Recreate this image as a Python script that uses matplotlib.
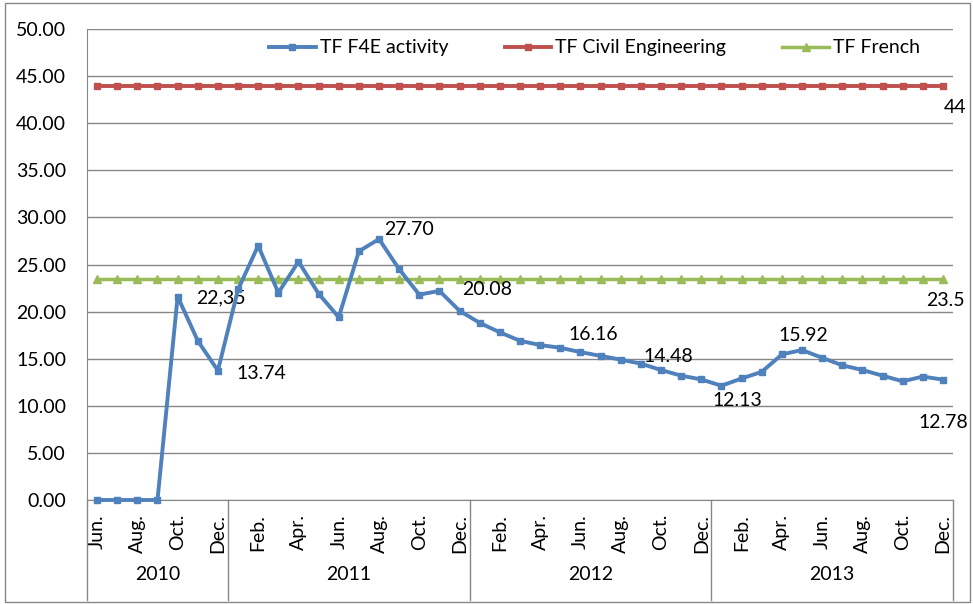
import matplotlib.pyplot as plt
import matplotlib.transforms as mtransforms
from matplotlib.patches import Rectangle

plt.rcParams['font.family'] = ['Lato', 'DejaVu Sans']

# data
month_names = ['Jan.', 'Feb.', 'Mar.', 'Apr.', 'May', 'Jun.', 'Jul.', 'Aug.', 'Sep.', 'Oct.', 'Nov.', 'Dec.']
months = month_names[5:] + month_names * 3
years = ['2010', '2011', '2012', '2013']
year_counts = [7, 12, 12, 12]

f4e = [0, 0, 0, 0, 21.6, 16.9, 13.74,
       22.35, 27.0, 22.0, 25.3, 21.9, 19.4, 26.4, 27.70, 24.5, 21.8, 22.2, 20.08,
       18.8, 17.8, 16.9, 16.45, 16.16, 15.7, 15.3, 14.9, 14.48, 13.8, 13.2, 12.8,
       12.13, 12.9, 13.6, 15.45, 15.92, 15.1, 14.3, 13.8, 13.2, 12.6, 13.1, 12.78]
civil = [44] * len(f4e)
french = [23.5] * len(f4e)

label_idx = [7, 6, 14, 18, 23, 27, 31, 35, 42]
label_txt = ['22,35', '13.74', '27.70', '20.08', '16.16', '14.48', '12.13', '15.92', '12.78']
label_off = [(-17, -8), (43, -3), (30, 10), (28, 21), (33, 13), (28, 7), (16, -15), (1, 15), (0, -43)]

blue = '#4F81BD'
red = '#C0504D'
green = '#9BBB59'
grey = '#868686'

fig = plt.figure(figsize=(9.73, 6.04), dpi=100)
fig.patches.append(Rectangle((5 / 973, 2 / 604), 965 / 973, 599 / 604, transform=fig.transFigure,
                             fill=False, edgecolor=grey, lw=1))
ax = fig.add_axes([87 / 973, 1 - 500 / 604, 866 / 973, 471 / 604])

x = list(range(len(f4e)))
ax.plot(x, f4e, color=blue, lw=2.8, marker='s', ms=5, label='TF F4E activity', clip_on=False, zorder=4)
ax.plot(x, civil, color=red, lw=2.8, marker='s', ms=4.5, label='TF Civil Engineering', clip_on=False, zorder=3)
ax.plot(x, french, color=green, lw=2.5, marker='^', ms=6, label='TF French', clip_on=False, zorder=3)

fs = 14
for i, t, (dx, dy) in zip(label_idx, label_txt, label_off):
    ax.annotate(t, (i, f4e[i]), xytext=(dx, dy), textcoords='offset pixels',
                ha='center', va='center', fontsize=fs)
ax.annotate('23.5', (42, french[-1]), xytext=(3, -22), textcoords='offset pixels',
            ha='center', va='center', fontsize=fs)
ax.annotate('44', (42, civil[-1]), xytext=(12, -22), textcoords='offset pixels',
            ha='center', va='center', fontsize=fs)

ax.set_xlim(-0.5, len(f4e) - 0.5)
ax.set_ylim(0, 50)
ax.set_yticks(range(0, 51, 5))
ax.set_yticklabels(['%.2f' % v for v in range(0, 51, 5)], fontsize=fs)
ax.grid(axis='y', color=grey, lw=1)
ax.set_axisbelow(True)
ax.tick_params(axis='y', length=0, pad=15)

ax.set_xticks(x)
ax.set_xticklabels([m if i % 2 == 0 else '' for i, m in enumerate(months)], rotation=90, fontsize=fs)
ax.tick_params(axis='x', length=0, pad=10)

for s in ['top', 'right']:
    ax.spines[s].set_visible(False)
for s in ['left', 'bottom']:
    ax.spines[s].set_color(grey)

# multi-level category axis
trans = mtransforms.blended_transform_factory(ax.transData, ax.transAxes)
edge = -0.5
bounds = [edge]
for c in year_counts:
    edge += c
    bounds.append(edge)
for b in bounds:
    ax.plot([b, b], [0, -0.212], transform=trans, color=grey, lw=1, clip_on=False)
for y, a, b in zip(years, bounds[:-1], bounds[1:]):
    ax.text((a + b) / 2, -0.159, y, transform=trans, ha='center', va='center', fontsize=fs)

ax.legend(loc='center', bbox_to_anchor=(0.586, 0.96), ncol=3, frameon=False,
          fontsize=fs, handlelength=2.4, columnspacing=2.9, handletextpad=0.2)

fig.savefig('out.png', dpi=100)
